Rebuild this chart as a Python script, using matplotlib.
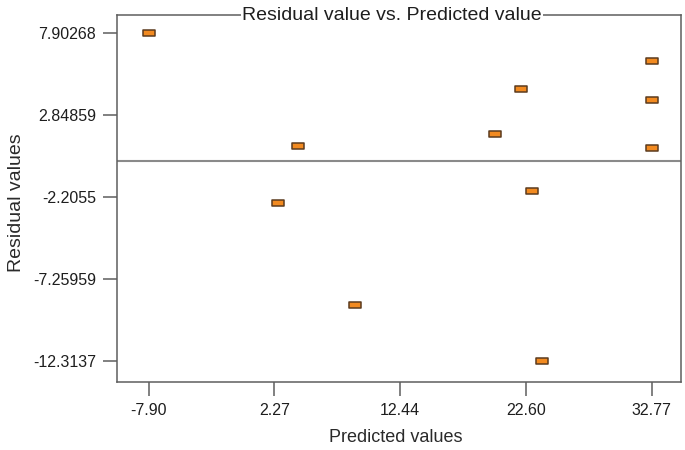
import matplotlib.pyplot as plt
from matplotlib.path import Path

# predicted values (x) and residuals (y)
predicted = [-7.90, 4.13, 2.51, 8.75, 20.09, 22.20, 23.09, 23.90, 32.77, 32.77, 32.77]
residual = [7.90268, 0.93, -2.58, -8.86, 1.67, 4.44, -1.84, -12.3137, 6.16, 3.76, 0.81]

x_ticks = [-7.9027, 2.2648, 12.4323, 22.5998, 32.7673]
x_labels = ['-7.90', '2.27', '12.44', '22.60', '32.77']
y_ticks = [7.90268, 2.84859, -2.2055, -7.25959, -12.3137]
y_labels = ['7.90268', '2.84859', '-2.2055', '-7.25959', '-12.3137']

plt.rcParams['font.family'] = ['Liberation Sans', 'DejaVu Sans']

fig = plt.figure(figsize=(6.85, 4.5), dpi=100)
ax = fig.add_axes([117 / 685, 1 - 382 / 450, (681 - 117) / 685, (382 - 15) / 450])

# small flat rectangle marker
box = Path([(-1, -0.55), (1, -0.55), (1, 0.55), (-1, 0.55), (-1, -0.55)],
           [Path.MOVETO, Path.LINETO, Path.LINETO, Path.LINETO, Path.CLOSEPOLY])

ax.axhline(0, color='#8a8a8a', linewidth=1.5, zorder=1)
ax.plot(predicted, residual, linestyle='none', marker=box, markersize=8.6,
        markerfacecolor='#f28a20', markeredgecolor='#5b3b1e', markeredgewidth=1.1, zorder=3)

ax.set_xlim(-10.47, 35.14)
ax.set_ylim(-13.61, 8.99)
ax.set_xticks(x_ticks)
ax.set_xticklabels(x_labels)
ax.set_yticks(y_ticks)
ax.set_yticklabels(y_labels)

for s in ax.spines.values():
    s.set_color('#5e5e5e')
    s.set_linewidth(1.1)
ax.tick_params(axis='both', length=10, width=1.1, color='#5e5e5e', labelsize=11.5,
               labelcolor='#1e1e1e', pad=5)

ax.set_xlabel('Predicted values', fontsize=13, color='#2a2a2a')
ax.set_ylabel('Residual values', fontsize=14, color='#2a2a2a')
ax.xaxis.set_label_coords(0.495, -0.15)
ax.yaxis.set_label_coords(-0.179, 0.488)
ax.xaxis.label.set_va('center')
ax.yaxis.label.set_va('center')

ax.text(0.488, 1.0, 'Residual value vs. Predicted value', transform=ax.transAxes,
        ha='center', va='center', fontsize=14, color='#1e1e1e',
        bbox=dict(facecolor='white', edgecolor='none', pad=1))

fig.savefig('out.png', dpi=100)
